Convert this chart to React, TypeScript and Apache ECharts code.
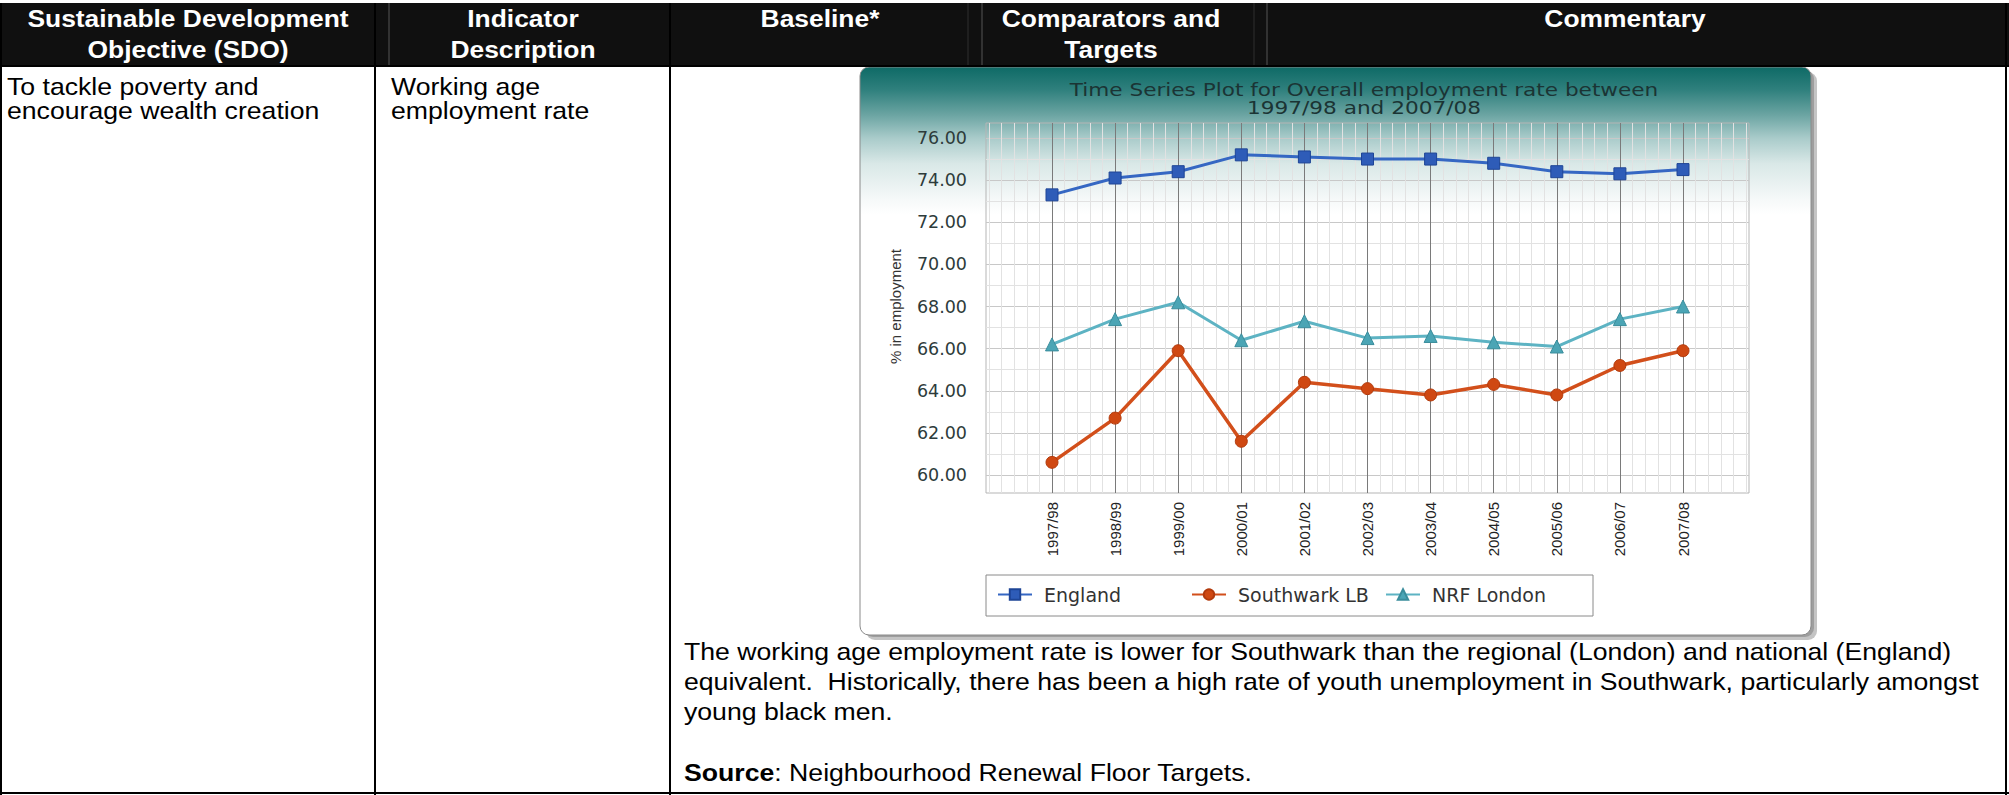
import React, { useEffect, useRef } from "react";
import * as echarts from "echarts";

const categories = ["1997/98", "1998/99", "1999/00", "2000/01", "2001/02", "2002/03", "2003/04", "2004/05", "2005/06", "2006/07", "2007/08"];
const england = [73.3, 74.1, 74.4, 75.2, 75.1, 75.0, 75.0, 74.8, 74.4, 74.3, 74.5];
const southwarkLB = [60.6, 62.7, 65.9, 61.6, 64.4, 64.1, 63.8, 64.3, 63.8, 65.2, 65.9];
const nrfLondon = [66.2, 67.4, 68.2, 66.4, 67.3, 66.5, 66.6, 66.3, 66.1, 67.4, 68.0];
const seriesNames = ["England", "Southwark LB", "NRF London"];

const chartTitle = ["Time Series Plot for Overall employment rate between", "1997/98 and 2007/08"];
const yAxisTitle = "% in employment";

const headerCol1 = ["Sustainable Development", "Objective (SDO)"];
const headerCol2 = ["Indicator", "Description"];
const headerCol3 = ["Baseline*"];
const headerCol4 = ["Comparators and", "Targets"];
const headerCol5 = ["Commentary"];
const objectiveText = ["To tackle poverty and", "encourage wealth creation"];
const indicatorText = ["Working age", "employment rate"];
const commentaryText = [
  "The working age employment rate is lower for Southwark than the regional (London) and national (England)",
  "equivalent.  Historically, there has been a high rate of youth unemployment in Southwark, particularly amongst",
  "young black men.",
];
const sourceLabel = "Source";
const sourceText = ": Neighbourhood Renewal Floor Targets.";

const TABLE_FONT = '"Liberation Sans", Arial, sans-serif';
const CHART_FONT = '"DejaVu Sans", Verdana, sans-serif';

function txt(x: number, y: number, text: string, o: any = {}) {
  return {
    type: "text",
    x,
    y,
    z: 10,
    scaleX: o.scaleX ?? 1.11,
    style: {
      text,
      fontFamily: o.fontFamily ?? TABLE_FONT,
      fontSize: o.fontSize ?? 24,
      fontWeight: o.fontWeight ?? "normal",
      fill: o.fill ?? "#000",
      align: o.align ?? "left",
      verticalAlign: "middle",
      rich: o.rich,
    },
  };
}

function vline(x: number, y1: number, y2: number, stroke: string, w: number, z = 5) {
  return { type: "line", z, shape: { x1: x, y1, x2: x, y2 }, style: { stroke, lineWidth: w } };
}

export default function App() {
  const ref = useRef<HTMLDivElement>(null);

  useEffect(() => {
    document.body.style.margin = "0";
    if (!ref.current) return;
    const chart = echarts.init(ref.current, undefined, { renderer: "svg" });

    const h1 = 18;
    const h2 = 49;
    const head = { align: "center", fontWeight: "bold", fill: "#fff", scaleX: 1.1 };
    const graphics: any[] = [
      { type: "rect", z: 1, shape: { x: 0, y: 3, width: 2009, height: 63 }, style: { fill: "#101010" } },
      vline(389, 3, 66, "#555", 1),
      vline(968, 3, 66, "#2e2e2e", 1),
      vline(982, 3, 66, "#555", 1),
      vline(1254, 3, 66, "#2e2e2e", 1),
      vline(1267, 3, 66, "#555", 1),
      vline(1, 3, 795, "#000", 2),
      vline(375, 3, 795, "#000", 2),
      vline(670, 3, 795, "#000", 2),
      vline(2006, 3, 795, "#000", 2),
      { type: "line", z: 5, shape: { x1: 0, y1: 66, x2: 2009, y2: 66 }, style: { stroke: "#000", lineWidth: 2 } },
      { type: "line", z: 5, shape: { x1: 0, y1: 793, x2: 2009, y2: 793 }, style: { stroke: "#000", lineWidth: 2 } },
      txt(188, h1, headerCol1[0], head),
      txt(188, h2, headerCol1[1], head),
      txt(523, h1, headerCol2[0], head),
      txt(523, h2, headerCol2[1], head),
      txt(820, h1, headerCol3[0], head),
      txt(1111, h1, headerCol4[0], head),
      txt(1111, h2, headerCol4[1], head),
      txt(1625, h1, headerCol5[0], head),
      txt(7, 86, objectiveText[0]),
      txt(7, 110, objectiveText[1]),
      txt(391, 86, indicatorText[0]),
      txt(391, 110, indicatorText[1]),
      txt(684, 651, commentaryText[0]),
      txt(684, 681, commentaryText[1]),
      txt(684, 711, commentaryText[2]),
      txt(684, 772, "{b|" + sourceLabel + "}" + sourceText, { rich: { b: { fontWeight: "bold", fontFamily: TABLE_FONT, fontSize: 24 } } }),
      // chart box + shadow
      { type: "rect", z: -4, shape: { x: 866, y: 72, width: 951, height: 568, r: 9 }, style: { fill: "#c4c4c4" } },
      { type: "rect", z: -3, shape: { x: 864, y: 70, width: 950, height: 567, r: 9 }, style: { fill: "#9e9e9e" } },
      {
        type: "rect",
        z: -2,
        shape: { x: 860, y: 67, width: 951, height: 568, r: 9 },
        style: {
          fill: {
            type: "linear", x: 0, y: 0, x2: 0, y2: 1,
            colorStops: [
              { offset: 0, color: "#0e6a66" },
              { offset: 0.04, color: "#2f807d" },
              { offset: 0.085, color: "#6ca5a3" },
              { offset: 0.125, color: "#a9cbca" },
              { offset: 0.17, color: "#d9e8e7" },
              { offset: 0.234, color: "#f6f9f9" },
              { offset: 0.26, color: "#ffffff" },
              { offset: 1, color: "#ffffff" },
            ],
          },
          stroke: "#8a8a8a",
          lineWidth: 1,
        },
      },
      { type: "rect", z: -1, shape: { x: 986, y: 575, width: 607, height: 41 }, style: { fill: "#fff", stroke: "#8a8a8a", lineWidth: 1 } },
      { type: "text", x: 1364, y: 90, z: 10, scaleX: 1.2, style: { text: chartTitle[0], fontFamily: CHART_FONT, fontSize: 18, fill: "#1b3434", align: "center", verticalAlign: "middle" } },
      { type: "text", x: 1364, y: 108, z: 10, scaleX: 1.2, style: { text: chartTitle[1], fontFamily: CHART_FONT, fontSize: 18, fill: "#1b3434", align: "center", verticalAlign: "middle" } },
    ];

    const legendCommon = {
      orient: "horizontal",
      padding: 0,
      itemWidth: 34,
      itemHeight: 13,
      top: 585,
      textStyle: { fontFamily: CHART_FONT, fontSize: 19, color: "#333", padding: [0, 0, 0, 7] },
    };

    // category step 63.1px, first category at x=1052
    const option: any = {
      animation: false,
      backgroundColor: "#ffffff",
      graphic: { elements: graphics },
      grid: [
        { left: 986, top: 123, width: 763, height: 370, show: true, borderColor: "#b5b5b5", borderWidth: 1, backgroundColor: "transparent" },
        { left: 988.9, top: 123, width: 757.2, height: 370 },
        { left: 986, top: 138, width: 763, height: 337 },
        { left: 1052, top: 123, width: 631, height: 370 },
      ],
      xAxis: [
        { gridIndex: 0, type: "value", show: false },
        {
          gridIndex: 1, type: "value", min: -1, max: 11, interval: 0.2,
          axisLine: { show: false }, axisTick: { show: false }, axisLabel: { show: false },
          splitLine: { show: true, lineStyle: { color: "#e2e2e2", width: 1 } },
        },
        { gridIndex: 2, type: "value", show: false },
        {
          gridIndex: 3, type: "category", data: categories, boundaryGap: false,
          axisLine: { show: false }, axisTick: { show: false },
          splitLine: { show: true, lineStyle: { color: "#7a7a7a", width: 1 } },
          axisLabel: { rotate: 90, margin: 9, fontSize: 15, fontFamily: TABLE_FONT, color: "#222", interval: 0 },
        },
      ],
      yAxis: [
        { gridIndex: 0, type: "value", show: false },
        { gridIndex: 1, type: "value", show: false },
        {
          gridIndex: 2, type: "value", min: 60, max: 76, interval: 2,
          axisLine: { show: false }, axisTick: { show: false },
          axisLabel: { formatter: (v: number) => v.toFixed(2), margin: 19, fontSize: 17.5, fontFamily: CHART_FONT, color: "#2d3b3b" },
          splitLine: { show: true, lineStyle: { color: "#c8c8c8" } },
          minorTick: { show: false, splitNumber: 2 },
          minorSplitLine: { show: true, lineStyle: { color: "#e2e2e2" } },
          name: yAxisTitle, nameLocation: "middle", nameGap: 83,
          nameTextStyle: { fontFamily: TABLE_FONT, fontSize: 15, color: "#333" },
        },
        { gridIndex: 3, type: "value", min: 59.145, max: 76.712, show: false },
      ],
      legend: [
        { ...legendCommon, data: [seriesNames[0]], left: 997 },
        { ...legendCommon, data: [seriesNames[1]], left: 1191 },
        { ...legendCommon, data: [seriesNames[2]], left: 1385 },
      ],
      series: [
        {
          name: seriesNames[0], type: "line", xAxisIndex: 3, yAxisIndex: 3, data: england,
          symbol: "rect", symbolSize: 12, z: 5,
          lineStyle: { color: "#3567c3", width: 3 },
          itemStyle: { color: "#2e5cb8", borderColor: "#1e4596", borderWidth: 1 },
        },
        {
          name: seriesNames[1], type: "line", xAxisIndex: 3, yAxisIndex: 3, data: southwarkLB,
          symbol: "circle", symbolSize: 12, z: 4,
          lineStyle: { color: "#d24f1b", width: 3.5 },
          itemStyle: { color: "#cf4812", borderColor: "#b23a0c", borderWidth: 1 },
        },
        {
          name: seriesNames[2], type: "line", xAxisIndex: 3, yAxisIndex: 3, data: nrfLondon,
          symbol: "triangle", symbolSize: 13, z: 3,
          lineStyle: { color: "#5db3c3", width: 3 },
          itemStyle: { color: "#4ba5b5", borderColor: "#3a8d9c", borderWidth: 1 },
        },
      ],
    };

    chart.setOption(option);
    return () => chart.dispose();
  }, []);

  return <div ref={ref} style={{ position: "absolute", left: 0, top: 0, width: 2009, height: 795 }} />;
}
